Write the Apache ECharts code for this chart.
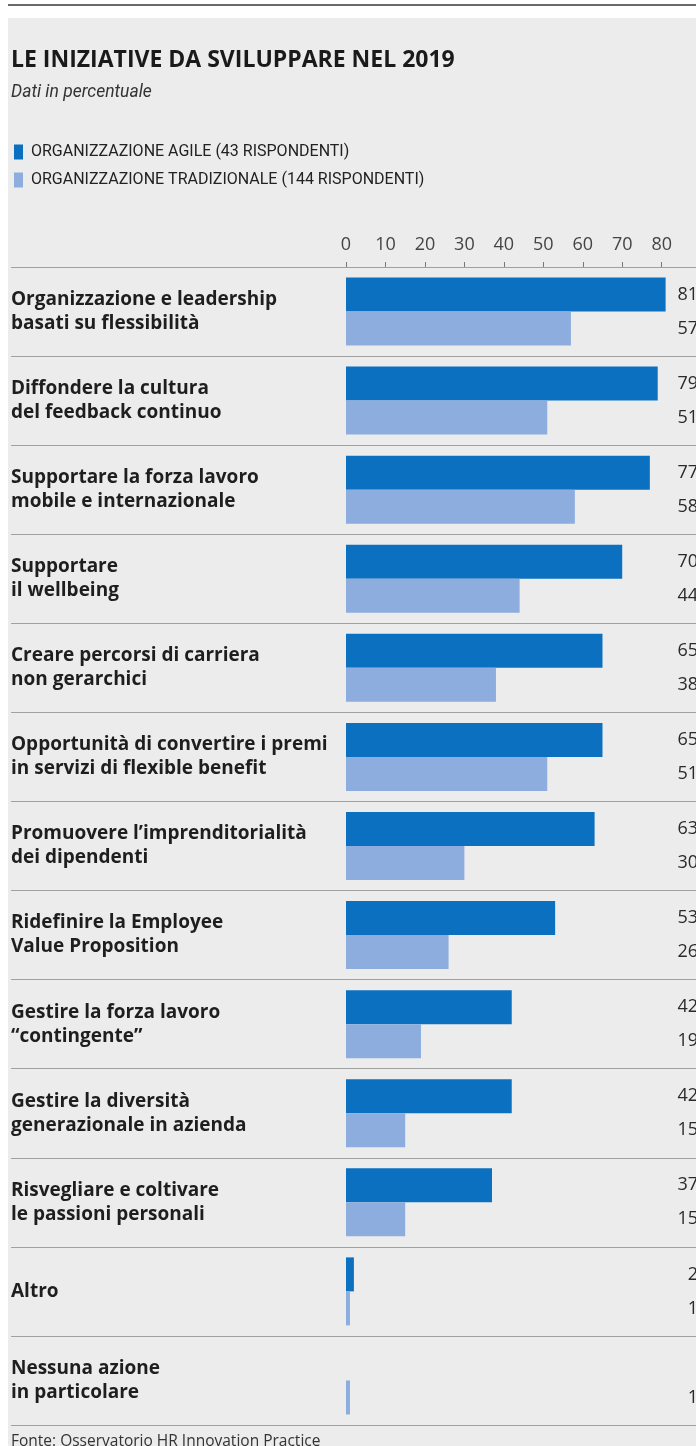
<!DOCTYPE html>
<html>
<head>
<meta charset="utf-8">
<script src="https://cdn.jsdelivr.net/npm/echarts@6/dist/echarts.min.js"></script>
<style>
html,body{margin:0;padding:0;background:#fff;}
#c{width:696px;height:1446px;}
</style>
</head>
<body>
<div id="c"></div>
<script>
const categories = [
  "Organizzazione e leadership\nbasati su flessibilità",
  "Diffondere la cultura\ndel feedback continuo",
  "Supportare la forza lavoro\nmobile e internazionale",
  "Supportare\nil wellbeing",
  "Creare percorsi di carriera\nnon gerarchici",
  "Opportunità di convertire i premi\nin servizi di flexible benefit",
  "Promuovere l’imprenditorialità\ndei dipendenti",
  "Ridefinire la Employee\nValue Proposition",
  "Gestire la forza lavoro\n“contingente”",
  "Gestire la diversità\ngenerazionale in azienda",
  "Risvegliare e coltivare\nle passioni personali",
  "Altro",
  "Nessuna azione\nin particolare"
];
const agile = [81, 79, 77, 70, 65, 65, 63, 53, 42, 42, 37, 2, null];
const tradizionale = [57, 51, 58, 44, 38, 51, 30, 26, 19, 15, 15, 1, 1];
const seriesNames = ["ORGANIZZAZIONE AGILE (43 RISPONDENTI)", "ORGANIZZAZIONE TRADIZIONALE (144 RISPONDENTI)"];
const tickValues = [0, 10, 20, 30, 40, 50, 60, 70, 80];

const DARK = '#0a70bf';
const LIGHT = '#8cadde';
const LINE = '#a0a0a0';
const BOLD = '"Open Sans", "Noto Sans", sans-serif';
const REG = 'Roboto, "Noto Sans", sans-serif';
const X_MAX = 88.7;

const chart = echarts.init(document.getElementById('c'));
const labelData = categories.map((c, i) => [i, agile[i], tradizionale[i]]);

chart.setOption({
  animation: false,
  backgroundColor: '#ffffff',
  graphic: [
    { type: 'rect', left: 8, top: 18, shape: { width: 688, height: 1428 }, style: { fill: '#ececec' }, z: -10 },
    { type: 'rect', left: 8, top: 4, shape: { width: 688, height: 2 }, style: { fill: '#6a6a6a' }, z: -10 },
    { type: 'text', left: 11, top: 1434, style: { text: 'Fonte: Osservatorio HR Innovation Practice', fill: '#333', font: '15.5px "Open Sans", sans-serif' } }
  ],
  title: {
    text: 'LE INIZIATIVE DA SVILUPPARE NEL 2019',
    subtext: 'Dati in percentuale',
    left: 6, top: 44,
    itemGap: 12,
    textStyle: { fontFamily: BOLD, fontWeight: 'bold', fontSize: 23, color: '#1a1a1a' },
    subtextStyle: { fontFamily: REG, fontStyle: 'italic', fontSize: 17.5, color: '#333' }
  },
  legend: {
    orient: 'vertical',
    left: 9, top: 139,
    itemWidth: 9, itemHeight: 15, itemGap: 12,
    icon: 'rect',
    textStyle: { fontFamily: REG, fontSize: 16, color: '#222', padding: [0, 0, 0, 3] },
    data: seriesNames
  },
  grid: { left: 346, top: 267, width: 354, height: 1158 },
  xAxis: {
    type: 'value', position: 'top', min: 0, max: X_MAX, interval: 10,
    axisLine: { show: true, lineStyle: { color: LINE, width: 1 } },
    axisTick: { show: true, length: 5, lineStyle: { color: '#777' } },
    splitLine: { show: false },
    axisLabel: {
      margin: 13, fontFamily: '"Open Sans", sans-serif', fontSize: 18, color: '#444',
      showMaxLabel: false,
      formatter: v => tickValues.indexOf(v) >= 0 ? String(v) : ''
    }
  },
  yAxis: {
    type: 'category', inverse: true, data: categories,
    axisLine: { show: false },
    axisTick: { show: true, length: 335, lineStyle: { color: LINE, width: 1 } },
    splitLine: { show: true, lineStyle: { color: LINE, width: 1 } },
    axisLabel: {
      align: 'left', margin: 335, fontFamily: BOLD, fontWeight: 'bold',
      fontSize: 19, lineHeight: 24, color: '#1e1e1e'
    }
  },
  series: [
    { name: seriesNames[0], type: 'bar', data: agile, barWidth: 34, barGap: '0%', itemStyle: { color: DARK } },
    { name: seriesNames[1], type: 'bar', data: tradizionale, barWidth: 34, barGap: '0%', itemStyle: { color: LIGHT } },
    {
      type: 'custom', data: labelData, silent: true, z: 10,
      encode: { y: 0 },
      renderItem: function (params, api) {
        const idx = api.value(0);
        const p = api.coord([X_MAX, idx]);
        const a = api.value(1), t = api.value(2);
        const children = [];
        const mk = (txt, y) => ({ type: 'text', style: { text: txt, x: p[0] + 2, y: y, textAlign: 'right', textVerticalAlign: 'middle', fill: '#2a2a2a', font: '18px "Open Sans", sans-serif' } });
        if (a != null && !isNaN(a)) children.push(mk(String(a), p[1] - 17));
        if (t != null && !isNaN(t)) children.push(mk(String(t), p[1] + 17));
        return { type: 'group', children: children };
      }
    }
  ]
});
</script>
</body>
</html>
